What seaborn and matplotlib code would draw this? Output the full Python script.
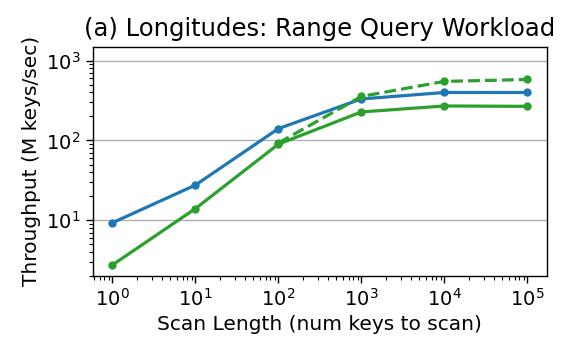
import matplotlib
matplotlib.use("Agg")
import matplotlib.pyplot as plt
import seaborn as sns
import pandas as pd
from matplotlib.ticker import LogLocator, NullFormatter

sns.set_style("ticks")
plt.rcParams['font.family'] = ['DejaVu Sans']
plt.rcParams['text.color'] = 'black'
plt.rcParams['axes.labelcolor'] = 'black'

scan_len = [1, 10, 100, 1000, 10000, 100000]
blue_vals = [9.3, 27.6, 141, 332, 400, 400]
green_vals = [2.75, 14.0, 90, 228, 271, 268]
dashed_x = [100, 1000, 10000, 100000]
dashed_vals = [93, 357, 551, 582]

title = "(a) Longitudes: Range Query Workload"
xlabel = "Scan Length (num keys to scan)"
ylabel = "Throughput (M keys/sec)"

fig = plt.figure(figsize=(5.74, 3.54), dpi=100)
ax = fig.add_axes([92.5/574, 1-276/354, (546.5-92.5)/574, (276-46.7)/354])

df_b = pd.DataFrame({"x": scan_len, "y": blue_vals})
df_g = pd.DataFrame({"x": scan_len, "y": green_vals})
df_d = pd.DataFrame({"x": dashed_x, "y": dashed_vals})

kw = dict(marker="o", markersize=6, linewidth=2.3, markeredgewidth=0)
sns.lineplot(data=df_b, x="x", y="y", ax=ax, color="#1f77b4", **kw)
sns.lineplot(data=df_g, x="x", y="y", ax=ax, color="#2ca02c", **kw)
sns.lineplot(data=df_d, x="x", y="y", ax=ax, color="#2ca02c", linestyle="--", **kw)

ax.set_xscale("log")
ax.set_yscale("log")
ax.set_ylim(2.0, 1500)
ax.set_xlim(10**-0.24, 10**5.23)
ax.xaxis.set_major_locator(LogLocator(base=10, numticks=10))
ax.xaxis.set_minor_locator(LogLocator(base=10, subs=range(2, 10), numticks=20))
ax.xaxis.set_minor_formatter(NullFormatter())
ax.yaxis.set_minor_formatter(NullFormatter())

ax.grid(True, axis="y", which="major", color="#b0b0b0", linewidth=1.0)
ax.grid(False, axis="x")
for s in ax.spines.values():
    s.set_color("black")
    s.set_linewidth(1.0)
ax.tick_params(axis="both", which="major", labelsize=14, length=5, width=1,
               colors="black", labelcolor="black")
ax.tick_params(axis="both", which="minor", length=3, width=0.8, colors="black")

ax.set_title(title, fontsize=17.5, pad=8, color="black")
ax.set_xlabel(xlabel, fontsize=14.5, color="black")
ax.set_ylabel(ylabel, fontsize=14.5, color="black")

fig.savefig("out.png", dpi=100)
